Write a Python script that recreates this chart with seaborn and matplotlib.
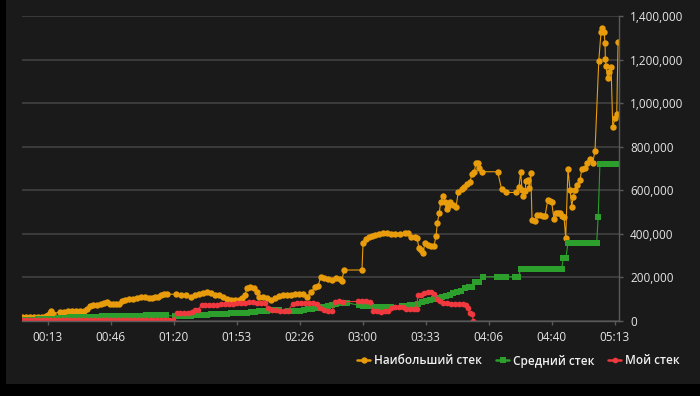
import matplotlib
matplotlib.use("Agg")
import matplotlib.pyplot as plt
import seaborn as sns
from matplotlib.patches import Rectangle
from matplotlib.ticker import FuncFormatter

# time in minutes from start, stacks in thousands of chips
best_t = [0, 1.85, 4.0, 6.1, 8.2, 10.3, 12.4, 13.5, 14.6, 15.3, 16.1, 19.8, 22.0, 24.1, 26.2, 28.3,
          30.4, 32.5, 34.1, 35.7, 37.3, 39.4, 41.5, 43.1, 44.7, 46.3, 47.9, 49.5, 51.1, 52.6, 54.2,
          56.4, 58.5, 60.6, 62.7, 64.8, 66.9, 68.5, 70.1, 71.7, 73.3, 74.9, 76.5, 81.2, 83.9, 86.5,
          89.2, 91.3, 93.4, 95.5, 97.6, 99.7, 101.9, 104.0, 106.1, 108.2, 110.3, 112.4, 114.6, 116.1,
          117.7, 118.8, 120.4, 122.5, 124.1, 125.1, 127.2, 129.4, 131.5, 133.6, 135.7, 137.8, 139.9,
          142.1, 144.2, 146.3, 148.4, 150.5, 152.6, 154.8, 156.3, 157.9, 159.5, 161.6, 163.8, 165.9,
          168.0, 169.0, 170.1, 179.6, 180.2, 181.7, 183.3, 184.9, 186.5, 188.6, 190.7, 192.9, 195.0,
          197.1, 199.7, 202.4, 204.0, 205.6, 207.7, 208.7, 209.8, 210.8, 211.9, 212.9, 214.5, 216.1,
          217.7, 218.8, 219.5, 220.5, 221.3, 222.6, 223.5, 224.4, 225.3, 226.2, 227.8, 229.4, 230.6,
          232.4, 233.6, 235.0, 236.8, 237.7, 239.0, 239.9, 241.2, 241.7, 243.3, 251.4, 253.5, 255.8,
          261.1, 262.7, 263.6, 264.3, 265.0, 265.9, 266.4, 267.6, 268.1, 268.9, 269.6, 271.2, 272.1,
          273.8, 275.4, 276.5, 277.9, 279.1, 280.0, 281.2, 282.3, 283.3, 284.4, 285.4, 286.5, 287.4,
          288.6, 289.7, 290.6, 291.4, 292.3, 293.5, 295.0, 295.9, 297.6, 298.8, 300.3, 301.7, 302.9,
          304.9, 306.1, 306.8, 307.7, 308.2, 308.4, 308.7, 309.6, 310.3, 311.4, 312.3, 313.5, 314.4,
          315.1]
best_v = [18, 18, 19, 20, 18, 20, 22, 28, 38, 45, 33, 42, 43, 44, 44, 45,
          45, 48, 55, 68, 72, 75, 80, 84, 85, 80, 78, 76, 80, 92, 98,
          100, 103, 105, 108, 110, 106, 104, 108, 112, 118, 124, 124, 122, 121, 118,
          112, 120, 126, 130, 131, 128, 121, 118, 110, 100, 97, 96, 98, 104,
          118, 150, 158, 150, 135, 112, 112, 104, 98, 106, 114, 118, 120,
          120, 122, 126, 124, 112, 132, 156, 160, 203, 196, 194, 190, 198,
          192, 185, 234, 234, 360, 375, 385, 390, 395, 398, 405, 402, 400,
          400, 401, 405, 402, 386, 385, 382, 334, 325, 314, 357, 348, 345,
          345, 390, 451, 497, 548, 574, 548, 513, 528, 548, 532, 525, 594,
          606, 615, 629, 639, 673, 685, 724, 724, 701, 685, 685, 604, 590,
          590, 617, 685, 600, 574, 595, 644, 648, 609, 678, 464, 460, 487,
          485, 484, 483, 555, 552, 545, 467, 494, 494, 494, 480, 479, 380,
          696, 600, 525, 571, 600, 624, 647, 698, 701, 727, 742, 727, 780,
          1195, 1328, 1346, 1328, 1275, 1203, 1172, 1114, 1144, 1167, 892, 930, 949,
          1279]

avg_t = [0, 1.85, 4.0, 6.1, 8.2, 10.3, 12.4, 14.6, 16.1,
         18.8, 20.9, 23.0, 25.1, 27.2, 29.4, 31.5, 33.6, 35.7, 37.8, 39.9, 42.1, 44.2, 46.3,
         48.4, 50.5, 52.6, 54.8, 56.9, 59.0, 61.1, 63.2, 65.3, 67.5, 69.6, 71.7, 73.8, 75.9,
         80.7, 82.8, 84.9, 87.0, 89.1, 91.2, 93.3, 95.5, 97.6, 99.7, 101.8, 103.9, 106.0, 108.1,
         110.2, 112.4, 114.5, 116.6, 118.7, 120.8, 122.9, 125.0, 127.1, 129.3, 131.4, 133.5, 135.6,
         140.5, 142.6, 144.7, 146.8, 148.9, 151.0, 153.1, 155.3, 157.4, 159.5, 161.6, 163.7,
         165.8, 167.9, 170.0, 171.7,
         178.0, 180.1, 182.2, 184.3, 186.4, 188.5, 190.6, 192.7, 194.8,
         200.8, 202.9, 205.0, 207.1, 209.2, 211.3, 213.4, 215.5, 217.6, 219.7, 221.8, 223.9,
         226.0, 228.0, 230.0, 232.0, 234.0, 236.0, 238.0, 239.5, 241.5, 243.5,
         250.9, 252.5, 254.1, 255.7, 260.6, 262.4,
         263.6, 265.5, 267.5, 269.5, 271.5, 273.5, 275.5, 277.5, 279.5, 281.5, 283.5, 285.3,
         286.1, 287.5,
         288.6, 290.2, 291.8, 293.4, 295.0, 296.6, 298.2, 299.8, 301.4, 303.0, 303.8,
         304.6,
         305.5, 307.1, 308.7, 310.3, 311.9, 313.5, 315.1]
avg_v = [5, 5, 6, 6, 7, 7, 8, 8, 8,
         15, 15, 16, 17, 17, 18, 18, 19, 19, 20, 20, 21, 21, 22,
         22, 23, 23, 24, 24, 25, 25, 25, 26, 26, 26, 27, 27, 27,
         21, 22, 23, 24, 25, 26, 27, 28, 29, 30, 31, 32, 33, 34,
         35, 36, 37, 38, 39, 40, 42, 44, 46, 47, 50, 50, 50,
         44, 45, 47, 48, 50, 54, 57, 60, 62, 66, 70, 74,
         78, 82, 84, 84,
         72, 70, 69, 68, 66, 64, 62, 62, 62,
         68, 70, 72, 74, 78, 86, 92, 98, 100, 104, 110, 114,
         120, 128, 134, 140, 150, 157, 157, 180, 180, 203,
         203, 203, 203, 203, 203, 203,
         239, 239, 239, 239, 239, 239, 239, 239, 239, 239, 239, 239,
         288, 288,
         359, 359, 359, 359, 359, 359, 359, 359, 359, 359, 359,
         479,
         721, 721, 721, 721, 721, 721, 721]

my_t = [0, 2.1, 4.2, 6.3, 8.4, 10.5, 12.6, 14.7, 16.8, 18.9, 21.0, 23.1, 25.2, 27.3, 29.4,
        31.5, 33.6, 35.7, 37.8, 39.9, 42.0, 44.1, 46.2, 48.3, 50.4, 52.5, 54.6, 56.7, 58.8,
        60.9, 63.0, 65.1, 67.2, 69.3, 71.4, 73.5, 75.6, 77.7, 79.8,
        81.7, 83.3, 85.4, 87.6, 89.7, 91.3, 92.9, 94.8, 96.6, 98.7, 100.8, 103.0, 105.1, 107.2,
        109.3, 111.4, 113.5, 115.7, 117.7, 119.8, 122.0, 124.1, 126.2, 128.3, 129.9, 132.0,
        134.1, 136.2, 138.4, 140.5, 143.1, 145.2, 147.4, 149.5, 151.6, 153.7, 155.8, 157.4,
        159.5, 161.6, 163.8, 165.3, 167.5, 169.6, 177.5, 179.6, 181.7, 183.9, 185.4, 187.6,
        189.7, 191.8, 193.4, 195.0, 197.1, 199.2, 201.3, 202.9, 205.0, 207.1, 208.7, 209.1,
        210.8, 212.4, 214.5, 216.1, 217.7, 219.3, 220.9, 222.5, 224.7, 226.8, 228.9, 231.0,
        233.1, 234.7, 235.8, 236.8, 237.9, 238.5]
my_v = [3, 3, 3, 3, 3, 3, 3, 5, 5, 5, 3, 3, 3, 3, 3,
        3, 3, 3, 3, 3, 3, 3, 3, 3, 3, 3, 3, 3, 3,
        3, 3, 3, 3, 3, 3, 3, 3, 3, 3,
        35, 38, 38, 38, 40, 50, 52, 73, 72, 72, 74, 74, 76, 76,
        78, 78, 82, 82, 84, 86, 86, 84, 84, 84, 58, 52,
        50, 48, 48, 48, 80, 82, 82, 83, 83, 84, 80, 58,
        52, 48, 46, 88, 90, 88, 90, 92, 90, 86, 48, 44,
        43, 44, 46, 60, 62, 64, 66, 56, 54, 55, 56, 119,
        120, 128, 134, 134, 122, 100, 92, 84, 82, 80, 80, 78,
        76, 74, 60, 36, 34, 2]

series_labels = ["Наибольший стек", "Средний стек", "Мой стек"]
series_colors = ["#e89c0c", "#2c9f2c", "#f0393e"]

sns.set_theme(style="dark")
plt.rcParams["font.family"] = ["Open Sans", "DejaVu Sans"]

fig = plt.figure(figsize=(7, 3.96), dpi=100)
fig.patch.set_facecolor("black")
fig.patches.append(Rectangle((6 / 700, 12 / 396), 694 / 700, 384 / 396,
                             transform=fig.transFigure, facecolor="#1a1a1a",
                             edgecolor="none", zorder=-10))

ax = fig.add_axes([22.5 / 700, 75 / 396, 596.5 / 700, 305 / 396])
ax.set_facecolor("#1a1a1a")

common = dict(ax=ax, sort=False, estimator=None, linewidth=0.8, markeredgewidth=0)
sns.lineplot(x=best_t, y=best_v, color=series_colors[0], marker="o", markersize=4.6,
             label=series_labels[0], **common)
sns.lineplot(x=avg_t, y=avg_v, color=series_colors[1], marker="s", markersize=4.3,
             label=series_labels[1], **common)
sns.lineplot(x=my_t, y=my_v, color=series_colors[2], marker="o", markersize=4.1,
             label=series_labels[2], **common)

ax.set_xlim(0, 315.6)
ax.set_ylim(0, 1400)
ax.set_yticks(range(0, 1401, 200))
ax.set_xticks([s / 60 for s in range(800, 19000, 2000)])
ax.xaxis.set_major_formatter(FuncFormatter(lambda m, _: f"{int(m // 60):02d}:{int(m % 60):02d}"))
ax.yaxis.set_major_formatter(FuncFormatter(lambda v, _: f"{int(round(v * 1000)):,}"))
ax.yaxis.tick_right()

ax.grid(axis="y", color="#414141", linewidth=1.2)
ax.grid(axis="x", visible=False)
ax.set_axisbelow(True)
for side in ["top", "left"]:
    ax.spines[side].set_visible(False)
for side in ["bottom", "right"]:
    ax.spines[side].set_visible(True)
    ax.spines[side].set_color("#5a5a5a")
    ax.spines[side].set_linewidth(1.0)
ax.tick_params(axis="both", colors="#5a5a5a", labelcolor="#e6e6e6", labelsize=8.5,
               length=3, width=1, direction="out")
ax.tick_params(axis="y", pad=5, right=True, left=False)
ax.tick_params(axis="x", pad=4, bottom=True)
ax.set_xlabel("")
ax.set_ylabel("")

handles, labels = ax.get_legend_handles_labels()
ax.get_legend().remove()
leg = fig.legend(handles, labels, loc="center right", bbox_to_anchor=(684 / 700, 35 / 396),
                 ncol=3, frameon=False, prop={"size": 8.5, "weight": "semibold"},
                 handlelength=1.1, handletextpad=0.3, columnspacing=1.2, borderaxespad=0)
for txt in leg.get_texts():
    txt.set_color("#f0f0f0")
for line in leg.get_lines():
    line.set_linewidth(1.8)

fig.savefig("out.png", dpi=100, facecolor=fig.get_facecolor())
